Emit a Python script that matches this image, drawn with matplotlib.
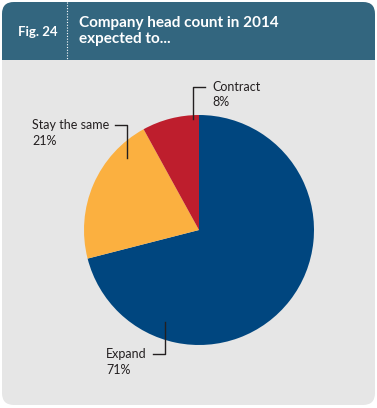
import matplotlib
matplotlib.use("Agg")
import matplotlib.pyplot as plt
from matplotlib.patches import FancyBboxPatch, Rectangle

# Data
labels = ["Expand", "Stay the same", "Contract"]
shares = [71, 21, 8]
colors = ["#00467F", "#FBB040", "#BE1E2D"]

fig_label = "Fig. 24"
title = "Company head count in 2014\nexpected to..."

W, H = 377, 408
plt.rcParams["font.family"] = ["Lato", "DejaVu Sans"]
fig = plt.figure(figsize=(W / 100, H / 100), dpi=100)
fig.patch.set_facecolor("white")

# background card, pixel coordinates
bg = fig.add_axes([0, 0, 1, 1], zorder=0)
bg.set_xlim(0, W)
bg.set_ylim(H, 0)
bg.axis("off")
bg.add_patch(FancyBboxPatch((2, 2), W - 4, H - 5, boxstyle="round,pad=0,rounding_size=12",
                            fc="#E6E6E6", ec="none"))
bg.add_patch(FancyBboxPatch((2, 2), W - 4, 75, boxstyle="round,pad=0,rounding_size=12",
                            fc="#33667F", ec="none"))
bg.add_patch(Rectangle((2, 60), W - 4, 30, fc="#E6E6E6", ec="none"))
bg.plot([67, 67], [2, 60], color="white", lw=0.8, ls=(0, (1, 1.5)))
bg.text(18, 32, fig_label, color="white", fontsize=9.5, fontweight="bold", va="center")
bg.text(79, 31, title, color="white", fontsize=11, fontweight="bold", va="center",
        linespacing=1.15)

# pie, centre (199, 230), radius 115 px
cx, cy, r = 199, 230, 115
pie_ax = fig.add_axes([(cx - r) / W, (H - cy - r) / H, 2 * r / W, 2 * r / H], zorder=1)
pie_ax.pie(shares, colors=colors, startangle=90, counterclock=False,
           wedgeprops=dict(linewidth=0))
pie_ax.set_xlim(-1, 1)
pie_ax.set_ylim(-1, 1)
pie_ax.axis("off")

# labels with leader lines
fg = fig.add_axes([0, 0, 1, 1], zorder=2)
fg.set_xlim(0, W)
fg.set_ylim(H, 0)
fg.axis("off")
fg.patch.set_alpha(0)

ink = "#231F20"
lw = 1.0
fs = 9
# Contract
fg.plot([193, 193, 205], [119, 87, 87], color=ink, lw=lw)
fg.text(212, 87, labels[2], color=ink, fontsize=fs, va="center")
fg.text(212, 102, f"{shares[2]}%", color=ink, fontsize=fs, va="center")
# Stay the same
fg.plot([115, 127, 127], [125, 125, 158], color=ink, lw=lw)
fg.text(32, 125, labels[1], color=ink, fontsize=fs, va="center")
fg.text(32, 141, f"{shares[1]}%", color=ink, fontsize=fs, va="center")
# Expand
fg.plot([165, 165, 153], [322, 354, 354], color=ink, lw=lw)
fg.text(106, 354, labels[0], color=ink, fontsize=fs, va="center")
fg.text(106, 370, f"{shares[0]}%", color=ink, fontsize=fs, va="center")

fig.savefig("out.png", dpi=100)
